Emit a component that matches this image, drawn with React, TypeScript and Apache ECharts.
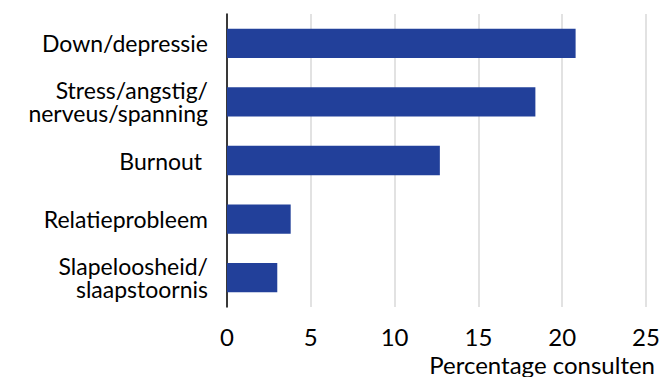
import React, { useEffect, useRef } from "react";
import * as echarts from "echarts";

const categories = [
  "Down/depressie",
  "Stress/angstig/\nnerveus/spanning",
  "Burnout ",
  "Relatieprobleem",
  "Slapeloosheid/\nslaapstoornis",
];
const values = [20.8, 18.4, 12.7, 3.8, 3.0];
const xTicks = { min: 0, max: 25, interval: 5 };
const xAxisName = "Percentage consulten";

const FONT = "Lato";

export default function App() {
  const ref = useRef<HTMLDivElement>(null);
  useEffect(() => {
    document.body.style.margin = "0";
    const chart = echarts.init(ref.current!, null, { renderer: "svg" });
    chart.setOption({
      animation: false,
      textStyle: { fontFamily: FONT },
      title: {
        text: xAxisName,
        right: 9,
        top: 352,
        padding: 0,
        textStyle: { color: "#000", fontSize: 24, lineHeight: 24, fontWeight: "normal", fontFamily: FONT },
      },
      grid: { left: 227, right: 18, top: 14, bottom: 70, containLabel: false },
      xAxis: {
        type: "value",
        min: xTicks.min,
        max: xTicks.max,
        interval: xTicks.interval,
        axisLine: { show: false },
        axisTick: { show: false },
        splitLine: { show: true, lineStyle: { color: "#d9d9d9", width: 1.5 } },
        axisLabel: { color: "#000", fontSize: 24, lineHeight: 24, margin: 17, fontFamily: FONT },
      },
      yAxis: {
        type: "category",
        data: categories,
        inverse: true,
        axisLine: { show: true, lineStyle: { color: "#000", width: 1.5 } },
        axisTick: { show: false },
        axisLabel: {
          color: "#000",
          fontSize: 23,
          lineHeight: 23,
          margin: 19,
          fontFamily: FONT,
          align: "right",
        },
      },
      series: [
        {
          type: "bar",
          data: values,
          barWidth: "50%",
          itemStyle: { color: "#22409a" },
        },
      ],
    });
    return () => chart.dispose();
  }, []);
  return <div ref={ref} style={{ width: 664, height: 377 }} />;
}
